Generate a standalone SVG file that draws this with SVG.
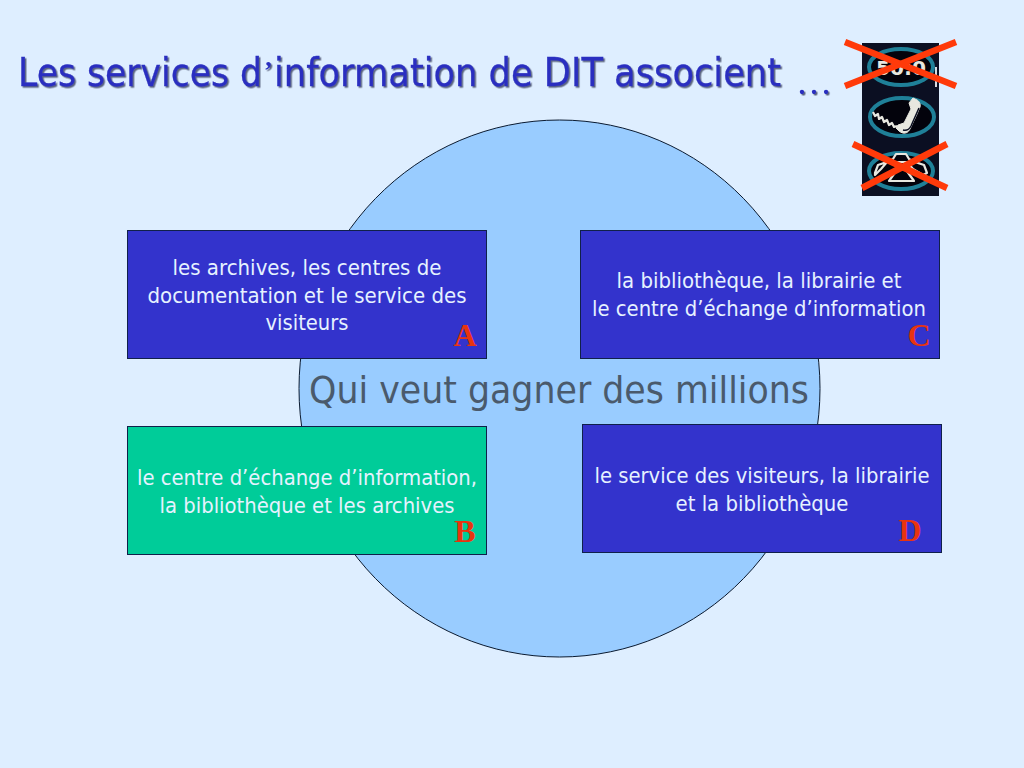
<svg xmlns="http://www.w3.org/2000/svg" width="1024" height="768" viewBox="0 0 1024 768">
<defs>
<filter id="shadow" x="-5%" y="-20%" width="110%" height="140%"><feDropShadow dx="1.500" dy="1.500" stdDeviation="0.700" flood-color="#5a6480"/></filter>
<style>
.box{stroke:#10204a;stroke-width:1}
.t{font-family:"DejaVu Sans",sans-serif;font-size:21px;fill:#e6f2ff;text-anchor:middle}
.l{font-family:"Liberation Serif",serif;font-size:32px;font-weight:bold;fill:#e8340f;text-anchor:middle}
.ttl{font-family:"DejaVu Sans",sans-serif;font-size:39px;fill:#2a2fc0;stroke:#2a2fc0;stroke-width:0.300}
.x{stroke:#ff3a0a;stroke-width:6.500;fill:none}
.ring{fill:#03030c;stroke:#1f8098;stroke-width:4}
.ic{fill:none;stroke:#e8e8e0;stroke-width:2.200}
</style>
</defs>
<rect width="1024" height="768" fill="#deeeff"/>
<g id="circle"><ellipse cx="559.500" cy="388.500" rx="260.500" ry="268.500" fill="#99ccff" stroke="#0a1a30" stroke-width="1"/></g>
<g id="title" filter="url(#shadow)">
<text class="ttl" x="18" y="86" textLength="244" lengthAdjust="spacingAndGlyphs">Les services d</text>
<text x="264" y="79" font-family="Liberation Serif,serif" font-size="26" font-weight="bold" fill="#2a2fc0">’</text>
<text class="ttl" x="274" y="86" textLength="507" lengthAdjust="spacingAndGlyphs">information de DIT associent</text>
<text x="796" y="94" font-family="Liberation Serif,serif" font-size="36" fill="#2a2fc0">…</text>
</g>
<g id="center-label"><text x="559" y="403" font-family="DejaVu Sans,sans-serif" font-size="38" fill="#4a5a6c" text-anchor="middle" textLength="500" lengthAdjust="spacingAndGlyphs">Qui veut gagner des millions</text></g>
<g id="node-a">
<rect class="box" x="127.500" y="230.500" width="359" height="128" fill="#3333cc"/>
<text class="t" x="307" y="275" textLength="269" lengthAdjust="spacingAndGlyphs">les archives, les centres de</text>
<text class="t" x="307" y="303" textLength="319" lengthAdjust="spacingAndGlyphs">documentation et le service des</text>
<text class="t" x="307" y="330" textLength="83" lengthAdjust="spacingAndGlyphs">visiteurs</text>
<text class="l" x="465" y="346">A</text>
</g>
<g id="node-c">
<rect class="box" x="580.500" y="230.500" width="359" height="128" fill="#3333cc"/>
<text class="t" x="759" y="288" textLength="285" lengthAdjust="spacingAndGlyphs">la bibliothèque, la librairie et</text>
<text class="t" x="759" y="316" textLength="334" lengthAdjust="spacingAndGlyphs">le centre d’échange d’information</text>
<text class="l" x="919" y="346">C</text>
</g>
<g id="node-b">
<rect class="box" x="127.500" y="426.500" width="359" height="128" fill="#00cc99"/>
<text class="t" x="307" y="485" textLength="340" lengthAdjust="spacingAndGlyphs">le centre d’échange d’information,</text>
<text class="t" x="307" y="513" textLength="295" lengthAdjust="spacingAndGlyphs">la bibliothèque et les archives</text>
<text class="l" x="465" y="542">B</text>
</g>
<g id="node-d">
<rect class="box" x="582.500" y="424.500" width="359" height="128" fill="#3333cc"/>
<text class="t" x="762" y="483" textLength="335" lengthAdjust="spacingAndGlyphs">le service des visiteurs, la librairie</text>
<text class="t" x="762" y="511" textLength="173" lengthAdjust="spacingAndGlyphs">et la bibliothèque</text>
<text class="l" x="910" y="541">D</text>
</g>
<g id="icon">
<rect x="862" y="43" width="77" height="153" fill="#0b0f22"/>
<ellipse class="ring" cx="901" cy="67" rx="32" ry="18"/>
<text x="901" y="75" font-family="DejaVu Sans,sans-serif" font-weight="bold" font-size="19" fill="#e8e8e0" text-anchor="middle" textLength="50" lengthAdjust="spacingAndGlyphs">50:0</text>
<path d="M936 67V87" stroke="#d8dce0" stroke-width="2"/>
<ellipse class="ring" cx="902" cy="117" rx="32" ry="19"/>
<path class="ic" d="M873 112l2 4 3-2 1 5 3-2 2 5 3-2 2 5 3-2 2 4 3-1" stroke-linejoin="round"/>
<path d="M899 131c5 4 9 2 11-2l7-15 3-7c1-3-1-6-3-7l-4-2-4 5 2 6-7 14-6 2-2 3z" fill="#e8e8e0" stroke="#e8e8e0" stroke-width="1"/>
<path d="M903 130c4 1 6 0 8-4l8-18" fill="none" stroke="#0b0f22" stroke-width="1.500"/>
<ellipse class="ring" cx="901" cy="171" rx="32" ry="18"/>
<path class="ic" d="M875 173l3-8 9-3 6-3 3-5h10l3 5 6 3 9 3 3 8-4 2-10-6-6-7h-20l-6 7-6 6zM889 181l10-14h5l10 14z" stroke-linejoin="round"/>
<path class="x" d="M845 42L956 86M956 42L845 86M853 144L947 188M947 144L862 188"/>
</g>
</svg>
